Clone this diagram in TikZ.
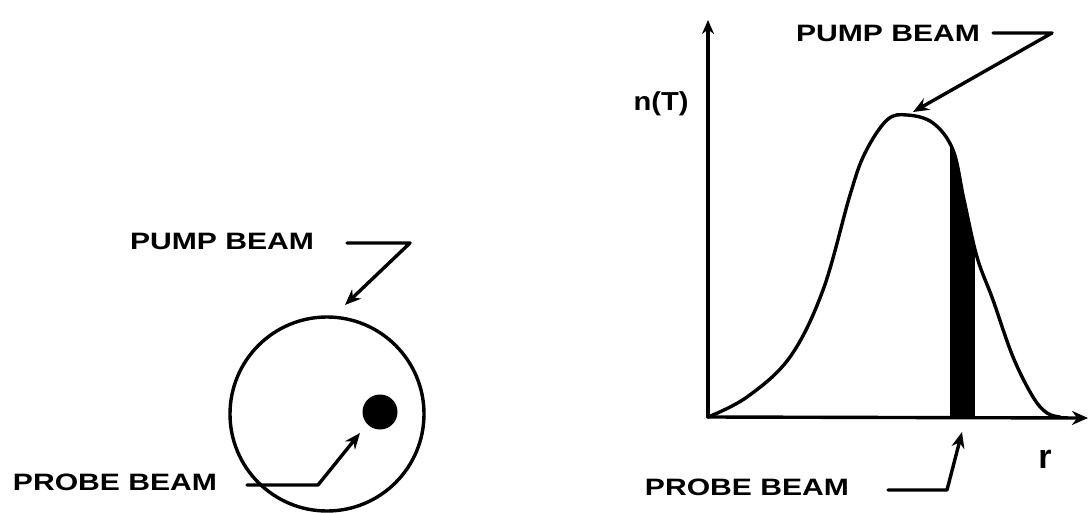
\documentclass[tikz,border=0pt]{standalone}
\usepackage{fontspec}
\setmainfont{Liberation Sans}
\usetikzlibrary{arrows.meta}
\tikzset{
  lbl/.style={font=\fontsize{23.7}{26}\selectfont\bfseries, inner sep=0pt},
  ln/.style={line width=3.4pt, line join=round, line cap=round},
  lead/.style={ln, -{Stealth[length=16pt,width=13pt]}},
}
\newcommand{\wide}[1]{\scalebox{1.27}[1]{#1}}
\begin{document}
\begin{tikzpicture}[x=1pt,y=-1pt]
\useasboundingbox (0,0) rectangle (1089,513);
% ---- left figure ----
\node[draw, ln, circle, minimum size=194pt, inner sep=0pt] (pump) at (327,414) {};
\node[fill=black, circle, minimum size=35pt, inner sep=0pt] (probe) at (380,412) {};
\node[lbl] (pumpL) at (222,241) {\wide{PUMP BEAM}};
\node[lbl] (probeL) at (115,482) {\wide{PROBE BEAM}};
\coordinate (a1) at (347,243);
\coordinate (a2) at (410,243);
\coordinate (a3) at (345,305);
\draw[lead] (a1) -- (a2) -- (a3);
\coordinate (b1) at (247,485);
\coordinate (b2) at (318,485);
\coordinate (b3) at (360,433);
\draw[lead] (b1) -- (b2) -- (b3);
% ---- right figure ----
\coordinate (O) at (708,417);
\coordinate (ytop) at (708,20);
\coordinate (xend) at (1088,418);
\draw[ln, -{Stealth[length=14pt,width=12pt]}] (O) -- (ytop);
\draw[ln, -{Stealth[length=16pt,width=14pt]}] (O) -- (xend);
\begin{scope}
\clip plot[smooth, tension=0.6] coordinates {(708,417) (747,397) (790,357) (823,290) (850,195) (865,153) (887,120) (907,115) (933,123) (953,150) (964,200) (977,257) (993,300) (1013,357) (1033,397) (1047,413) (1060,417)} -- cycle;
\fill[black] (950,100) rectangle (975,418);
\end{scope}
\draw[ln] plot[smooth, tension=0.6] coordinates {(708,417) (747,397) (790,357) (823,290) (850,195) (865,153) (887,120) (907,115) (933,123) (953,150) (964,200) (977,257) (993,300) (1013,357) (1033,397) (1047,413) (1060,417)};
\node[font=\fontsize{26}{28}\selectfont\bfseries, inner sep=0pt] (nT) at (661,104) {\scalebox{1.12}[1]{n(T)}};
\node[font=\fontsize{34}{36}\selectfont\bfseries, inner sep=0pt, anchor=base] (r) at (1045,468) {r};
\node[lbl] (pumpR) at (888,33) {\wide{PUMP BEAM}};
\node[lbl] (probeR) at (747,487) {\wide{PROBE BEAM}};
\coordinate (c1) at (993,33);
\coordinate (c2) at (1052,33);
\coordinate (c3) at (913,112);
\draw[lead] (c1) -- (c2) -- (c3);
\coordinate (d1) at (888,490);
\coordinate (d2) at (947,490);
\coordinate (d3) at (962,432);
\draw[lead] (d1) -- (d2) -- (d3);
\end{tikzpicture}
\end{document}
